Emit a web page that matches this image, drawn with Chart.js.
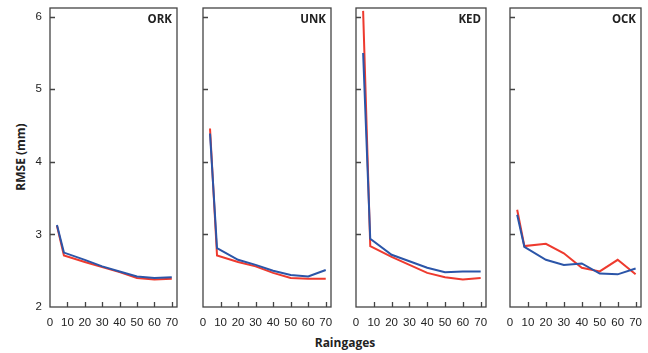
<!DOCTYPE html>
<html>
<head>
<meta charset="utf-8">
<script src="https://cdn.jsdelivr.net/npm/chart.js@4/dist/chart.umd.min.js"></script>
<style>
  html,body{margin:0;padding:0;background:#fff;}
  #wrap{position:relative;width:648px;height:353px;overflow:hidden;background:#fff;}
  canvas{position:absolute;top:0;}
  .ttl{position:absolute;font-family:"Open Sans",sans-serif;font-weight:bold;font-size:12px;color:#222;white-space:nowrap;}
</style>
</head>
<body>
<div id="wrap">
  <div class="ttl" id="xt" style="left:345px;top:342px;transform:translate(-50%,-50%);">Raingages</div>
  <div class="ttl" id="yt" style="left:20px;top:157px;transform:translate(-50%,-50%) rotate(-90deg);">RMSE (mm)</div>
</div>
<script>
// ---- data ----
const raingages = [4, 8, 20, 30, 40, 50, 60, 70];
const panelNames = ["ORK", "UNK", "KED", "OCK"];
const xTickLabels = ["0", "10", "20", "30", "40", "50", "60", "70"];
const yTickLabels = ["2", "3", "4", "5", "6"];

const orkRed  = [3.12, 2.71, 2.62, 2.55, 2.48, 2.40, 2.38, 2.39];
const orkBlue = [3.13, 2.75, 2.65, 2.56, 2.49, 2.42, 2.40, 2.41];
const unkRed  = [4.46, 2.71, 2.62, 2.56, 2.47, 2.40, 2.39, 2.39];
const unkBlue = [4.39, 2.81, 2.65, 2.58, 2.50, 2.44, 2.42, 2.51];
const kedRed  = [6.08, 2.84, 2.69, 2.58, 2.47, 2.41, 2.38, 2.40];
const kedBlue = [5.50, 2.94, 2.72, 2.63, 2.54, 2.48, 2.49, 2.49];
const ockRed  = [3.34, 2.84, 2.87, 2.74, 2.54, 2.49, 2.65, 2.45];
const ockBlue = [3.27, 2.83, 2.65, 2.58, 2.60, 2.46, 2.45, 2.53];

const redSeries  = [orkRed, unkRed, kedRed, ockRed];
const blueSeries = [orkBlue, unkBlue, kedBlue, ockBlue];

// ---- layout ----
const panelLeft  = [50, 203, 356, 510];
const panelRight = [177, 331, 486, 641];
const AXW = 50;   // width reserved for y axis inside each canvas
const PADR = 6;

const RED = "#ee3a2e";
const BLUE = "#2b55a8";
const FRAME = "#444";

const framePlugin = {
  id: "frame",
  afterDraw(chart, args, opts) {
    const {ctx, chartArea: a, scales} = chart;
    ctx.save();
    ctx.strokeStyle = FRAME;
    ctx.lineWidth = 1.3;
    ctx.beginPath();
    [10,20,30,40,50,60,70].forEach(v => {
      const x = Math.round(scales.x.getPixelForValue(v)) + 0.5;
      ctx.moveTo(x, a.bottom); ctx.lineTo(x, a.bottom - 5);
    });
    [3,4,5,6].forEach(v => {
      const y = Math.round(scales.y.getPixelForValue(v)) + 0.5;
      ctx.moveTo(a.left, y); ctx.lineTo(a.left + 5, y);
    });
    ctx.stroke();
    ctx.strokeRect(a.left, a.top, a.right - a.left, a.bottom - a.top);
    ctx.fillStyle = "#222";
    ctx.font = "bold 11.5px 'Open Sans', sans-serif";
    ctx.textAlign = "right";
    ctx.textBaseline = "middle";
    ctx.fillText(opts.name, a.right - 5, 20);
    ctx.restore();
  }
};

const wrap = document.getElementById("wrap");
for (let i = 0; i < 4; i++) {
  const cv = document.createElement("canvas");
  const left = panelLeft[i] - AXW;
  const w = panelRight[i] - panelLeft[i] + AXW + PADR;
  cv.width = w; cv.height = 353;
  cv.style.left = left + "px";
  cv.style.width = w + "px"; cv.style.height = "353px";
  wrap.appendChild(cv);
  const showY = i === 0;
  new Chart(cv, {
    type: "line",
    data: {
      datasets: [
        { label: "blue", data: raingages.map((x, k) => ({x, y: blueSeries[i][k]})),
          borderColor: BLUE, borderWidth: 2, pointRadius: 0, tension: 0, order: 0 },
        { label: "red", data: raingages.map((x, k) => ({x, y: redSeries[i][k]})),
          borderColor: RED, borderWidth: 2, pointRadius: 0, tension: 0, order: 1 }
      ]
    },
    options: {
      responsive: false,
      animation: false,
      devicePixelRatio: 1,
      layout: { padding: { left: 0, right: PADR, top: 8, bottom: 0 } },
      plugins: { legend: { display: false }, tooltip: { enabled: false }, title: { display: false }, frame: { name: panelNames[i] } },
      scales: {
        x: {
          type: "linear", min: 0, max: 73,
          grid: { display: false, drawTicks: false },
          border: { display: false },
          ticks: {
            stepSize: 10, includeBounds: false, maxRotation: 0, autoSkip: false,
            padding: 9, color: "#222",
            font: { family: "'Liberation Sans', Arial, sans-serif", size: 11.5 },
            callback: (v) => xTickLabels[Math.round(v / 10)]
          },
          afterFit: (s) => { s.height = 46; s.paddingLeft = 0; s.paddingRight = 0; }
        },
        y: {
          type: "linear", min: 2, max: 6.12,
          grid: { display: false, drawTicks: false },
          border: { display: false },
          ticks: {
            display: showY,
            stepSize: 1, includeBounds: false, padding: 8, color: "#222",
            font: { family: "'Liberation Sans', Arial, sans-serif", size: 11.5 },
            callback: (v) => yTickLabels[Math.round(v - 2)]
          },
          afterFit: (s) => { s.width = AXW; s.paddingTop = 0; s.paddingBottom = 0; }
        }
      }
    },
    plugins: [framePlugin]
  });
}
</script>
</body>
</html>
